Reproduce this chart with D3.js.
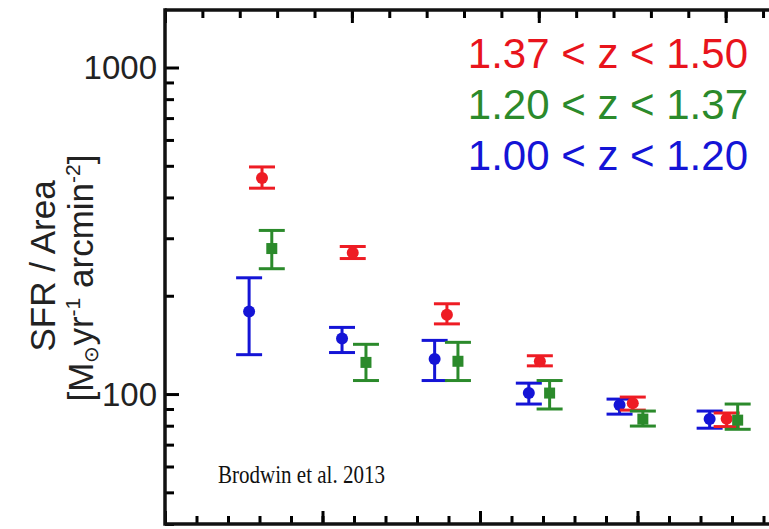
<!DOCTYPE html>
<html>
<head>
<meta charset="utf-8">
<script src="https://cdn.jsdelivr.net/npm/d3@7"></script>
<style>
  body { margin: 0; background: #fff; }
  svg { display: block; }
  .sans { font-family: "Liberation Sans", Arial, Helvetica, sans-serif; }
  .serif { font-family: "Liberation Serif", "DejaVu Serif", serif; }
</style>
</head>
<body>
<div id="chart"></div>
<script>
// radial bins (x), SFR/area values and error bar limits per redshift slice
const xBlue = [0.267, 0.562, 0.856, 1.155, 1.443, 1.729];
const yBlue = [179, 148, 128, 100.7, 92.5, 83.8];
const loBlue = [132, 134, 110, 93.2, 86.8, 78.6];
const hiBlue = [227, 160, 146, 108, 96.5, 88.7];

const xRed = [0.308, 0.596, 0.895, 1.19, 1.485, 1.783];
const yRed = [459, 271, 175, 126, 93.8, 84];
const loRed = [427, 260, 164, 122, 89.3, 79.5];
const hiRed = [496, 283, 189, 131, 97.9, 87.5];

const xGreen = [0.339, 0.638, 0.93, 1.221, 1.517, 1.818];
const yGreen = [279, 125, 126, 100.7, 83.8, 83.2];
const loGreen = [242, 110, 110, 90, 79.8, 78.0];
const hiGreen = [317, 142, 144, 110, 88.7, 93.2];

const legendLabels = ["1.37 < z < 1.50", "1.20 < z < 1.37", "1.00 < z < 1.20"];
const yTickValues = [100, 1000];
const yMinorValues = [40, 50, 60, 70, 80, 90, 200, 300, 400, 500, 600, 700, 800, 900];
const xMajorValues = [0, 0.5, 1.0, 1.5, 2.0];
const xTopMajorValues = [0, 0.5, 1.0, 1.5];
const citation = "Brodwin et al. 2013";

const width = 769, height = 529;
const mLeft = 165, mTop = 10, mBottom = 524, mRight = 795;

const svg = d3.select("#chart").append("svg")
  .attr("width", width)
  .attr("height", height);

const x = d3.scaleLinear().domain([0, 2]).range([mLeft, mRight]);
const xTop = d3.scaleLinear().domain([0, 1.6855]).range([mLeft, mRight]);
const y = d3.scaleLog().domain([40, 1500]).range([mBottom, mTop]);

const xMinor = d3.range(0, 21).map(i => i / 10);
const xTopMinor = d3.range(0, 17).map(i => i / 10);

function tickAxis(axis, values, size, transform) {
  const g = svg.append("g")
    .attr("transform", transform)
    .call(axis.tickValues(values).tickSize(size).tickFormat(""));
  g.select(".domain").remove();
  g.selectAll(".tick line").attr("stroke", "#000").attr("stroke-width", 3);
  return g;
}

// inward ticks on left, bottom and top
tickAxis(d3.axisRight(y), yMinorValues, 9, `translate(${mLeft},0)`);
tickAxis(d3.axisRight(y), yTickValues, 14, `translate(${mLeft},0)`);
tickAxis(d3.axisTop(x), xMinor, 8, `translate(0,${mBottom})`);
tickAxis(d3.axisTop(x), xMajorValues, 13, `translate(0,${mBottom})`);
tickAxis(d3.axisBottom(xTop), xTopMinor, 8, `translate(0,${mTop})`);
tickAxis(d3.axisBottom(xTop), xTopMajorValues, 13, `translate(0,${mTop})`);

// frame
const frame = svg.append("g").attr("stroke", "#111").attr("stroke-width", 3.5);
frame.append("line").attr("x1", mLeft).attr("x2", width + 10).attr("y1", mTop).attr("y2", mTop);
frame.append("line").attr("x1", mLeft).attr("x2", width + 10).attr("y1", mBottom).attr("y2", mBottom);
frame.append("line").attr("x1", mLeft).attr("x2", mLeft).attr("y1", mTop - 1.75).attr("y2", mBottom + 1.75);

svg.selectAll("text.ylab").data(yTickValues).join("text")
  .attr("class", "ylab sans")
  .attr("x", 157).attr("y", d => y(d))
  .attr("dy", "0.36em")
  .attr("text-anchor", "end")
  .attr("font-size", 33)
  .attr("fill", "#222")
  .text(d => d);

// y title
const title = svg.append("g").attr("class", "sans").attr("fill", "#222").attr("font-size", 35);
title.append("text")
  .attr("transform", "translate(55,266) rotate(-90)")
  .attr("text-anchor", "middle")
  .text("SFR / Area");
const t2 = title.append("text")
  .attr("transform", "translate(93,278) rotate(-90)")
  .attr("text-anchor", "middle");
t2.append("tspan").text("[M");
t2.append("tspan").attr("font-size", 20).attr("dy", 5).text("\u2299");
t2.append("tspan").attr("dy", -5).text("yr");
t2.append("tspan").attr("font-size", 21).attr("dy", -13).text("-1");
t2.append("tspan").attr("dy", 13).text(" arcmin");
t2.append("tspan").attr("font-size", 21).attr("dy", -13).text("-2");
t2.append("tspan").attr("dy", 13).text("]");

const series = [
  { name: "blue", color: "#1414d6", xs: xBlue, ys: yBlue, lo: loBlue, hi: hiBlue, shape: "circle" },
  { name: "red", color: "#ee1c24", xs: xRed, ys: yRed, lo: loRed, hi: hiRed, shape: "circle" },
  { name: "green", color: "#2b8a2b", xs: xGreen, ys: yGreen, lo: loGreen, hi: hiGreen, shape: "square" }
];

const capW = 13;
series.forEach(s => {
  const g = svg.append("g").attr("stroke", s.color).attr("fill", s.color).attr("stroke-width", 3);
  const pts = s.xs.map((xv, i) => ({ x: xv, y: s.ys[i], lo: s.lo[i], hi: s.hi[i] }));
  g.selectAll("line.v").data(pts).join("line")
    .attr("class", "v")
    .attr("x1", d => x(d.x)).attr("x2", d => x(d.x))
    .attr("y1", d => y(d.lo)).attr("y2", d => y(d.hi));
  g.selectAll("line.c1").data(pts).join("line")
    .attr("class", "c1")
    .attr("x1", d => x(d.x) - capW).attr("x2", d => x(d.x) + capW)
    .attr("y1", d => y(d.lo)).attr("y2", d => y(d.lo));
  g.selectAll("line.c2").data(pts).join("line")
    .attr("class", "c2")
    .attr("x1", d => x(d.x) - capW).attr("x2", d => x(d.x) + capW)
    .attr("y1", d => y(d.hi)).attr("y2", d => y(d.hi));
  if (s.shape === "circle") {
    g.selectAll("circle.m").data(pts).join("circle")
      .attr("class", "m")
      .attr("cx", d => x(d.x)).attr("cy", d => y(d.y))
      .attr("r", 6).attr("stroke", "none");
  } else {
    g.selectAll("rect.m").data(pts).join("rect")
      .attr("class", "m")
      .attr("x", d => x(d.x) - 5.5).attr("y", d => y(d.y) - 5.5)
      .attr("width", 11).attr("height", 11).attr("stroke", "none");
  }
});

// legend
const legendColors = ["#e8141c", "#2b8a2b", "#1414d6"];
svg.selectAll("text.leg").data(legendLabels).join("text")
  .attr("class", "leg sans")
  .attr("x", 748).attr("y", (d, i) => 68 + i * 51)
  .attr("text-anchor", "end")
  .attr("font-size", 42)
  .attr("fill", (d, i) => legendColors[i])
  .text(d => d);

svg.append("text")
  .attr("class", "serif")
  .attr("x", 218).attr("y", 483)
  .attr("font-size", 25)
  .attr("textLength", 167)
  .attr("lengthAdjust", "spacingAndGlyphs")
  .attr("fill", "#111")
  .text(citation);
</script>
</body>
</html>
